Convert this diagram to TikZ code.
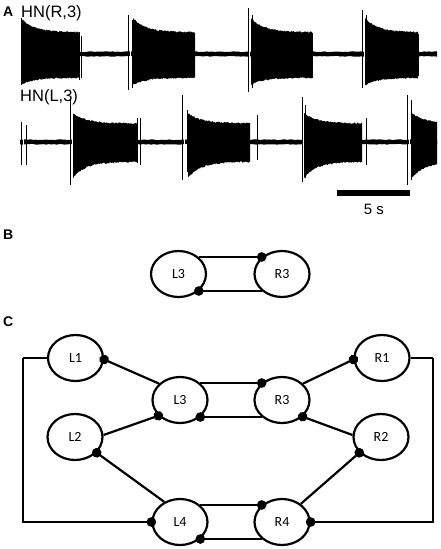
\documentclass[tikz,border=0pt]{standalone}
\usepackage{fontspec}
\setmainfont{Liberation Sans}
\newfontfamily\neuronfont{Carlito}
\usetikzlibrary{shapes,arrows.meta,positioning,calc}
\usepackage{xcolor}

% noisy baseline of a recording
\newcommand{\tracebase}[3]{%
  \fill plot[domain=#1:#2, samples=160] (\x,{#3-1.9-0.8*rnd})
    -- plot[domain=#2:#1, samples=160] (\x,{#3+1.9+0.8*rnd}) -- cycle;}
% one burst: x0, x1, baseline, up plateau, up extra, down plateau, down extra
\newcommand{\spikeburst}[7]{%
  \fill plot[domain=#1:#2, samples=90] (\x,{#3-#4-#5*exp(-(\x-#1)/13)-1.5*rnd})
    -- plot[domain=#2:#1, samples=90] (\x,{#3+#6+#7*exp(-(\x-#1)/13)+1.5*rnd}) -- cycle;}

\begin{document}
\begin{tikzpicture}[x=1pt, y=-1pt,
  neuron/.style={ellipse, draw, line width=2.2pt, minimum width=55pt, minimum height=46pt, inner sep=0pt, font=\neuronfont\fontsize{14}{16}\selectfont},
  inh/.style={line width=2.2pt, -{Circle[length=9.5pt]}, shorten >=-4.7pt},
  wire/.style={line width=2.2pt},
  panel/.style={font=\bfseries\fontsize{14}{16}\selectfont, anchor=base west, inner sep=0pt},
  tracelabel/.style={font=\fontsize{16.5}{18}\selectfont, anchor=base west, inner sep=0pt},
  spike/.style={line width=0.8pt},
  gap/.style={white, line width=1pt}
]
  \useasboundingbox (0,0) rectangle (441,549);
  \pgfmathsetseed{7}

  % panel A: recordings
  \node[panel] (labA) at (3,16) {A};
  \node[tracelabel] (hnR) at (21,17) {HN(R,3)};
  \node[tracelabel] (hnL) at (20,101) {HN(L,3)};

  \tracebase{21}{437}{54}
  \foreach \ba/\bb in {21/79, 133/195, 251/312, 365/418}
    \spikeburst{\ba}{\bb}{54}{21}{14}{23}{7};
  \tracebase{20}{437}{142}
  \foreach \ba/\bb in {73/137, 188/250, 304/362, 412/437}
    \spikeburst{\ba}{\bb}{142}{18}{10}{19}{16};

  \foreach \sx in {130, 249.5, 364} \draw[gap] (\sx,46) -- (\sx,62);
  \foreach \sx in {23.5, 72, 184.5, 303.5, 409} \draw[gap] (\sx,134) -- (\sx,150);
  \foreach \sx/\sa/\sb in {21/18/84, 79/32/80, 81/36/78, 128/15/90, 132/20/88,
      248/8/92, 252/15/88, 312/33/78, 362/10/88, 366/15/85, 418/34/76}
    \draw[spike] (\sx,\sa) -- (\sx,\sb);
  \foreach \sx/\sa/\sb in {21/122/165, 26/125/165, 70/100/185, 137/118/163, 140/118/165,
      182/95/180, 187/110/172, 257/115/160, 302/97/182, 305/105/178, 366/118/165,
      407/95/185, 411/100/180}
    \draw[spike] (\sx,\sa) -- (\sx,\sb);

  \fill (337,190) rectangle (410,196);
  \node[font=\fontsize{15}{17}\selectfont] (scale) at (374,209) {5 s};

  % panel B: half-center pair
  \node[panel] (labB) at (3,239) {B};
  \node[neuron] (bL3) at (178.5,274) {L3};
  \node[neuron] (bR3) at (282,274) {R3};
  \draw[inh] (bL3.40) -- (bR3.140);
  \draw[inh] (bR3.-140) -- (bL3.-40);

  % panel C: full network
  \node[panel] (labC) at (3,326) {C};
  \node[neuron] (L1) at (75.5,358) {L1};
  \node[neuron] (R1) at (382,358) {R1};
  \node[neuron] (L3) at (180,400) {L3};
  \node[neuron] (R3) at (282,400) {R3};
  \node[neuron] (L2) at (75,437) {L2};
  \node[neuron] (R2) at (381,437) {R2};
  \node[neuron] (L4) at (180,522) {L4};
  \node[neuron] (R4) at (282,522) {R4};

  \draw[inh] (L3.40) -- (R3.140);
  \draw[inh] (R3.-140) -- (L3.-40);
  \draw[inh] (L4.40) -- (R4.140);
  \draw[inh] (R4.-140) -- (L4.-40);

  \draw[inh] (L3.142) -- (L1.-3);
  \draw[inh] (R3.38) -- (R1.183);
  \draw[inh] (L2.4) -- (L3.216);
  \draw[inh] (R2.176) -- (R3.-39);
  \draw[inh] (L4.128) -- (L2.-36);
  \draw[inh] (R4.44) -- (R2.216);

  \coordinate (lturn) at (23,358);
  \coordinate (rturn) at (433,358);
  \draw[wire] (L1.west) -- (lturn);
  \draw[inh] (lturn) |- (L4.west);
  \draw[wire] (R1.east) -- (rturn);
  \draw[inh] (rturn) |- (R4.east);
\end{tikzpicture}
\end{document}
